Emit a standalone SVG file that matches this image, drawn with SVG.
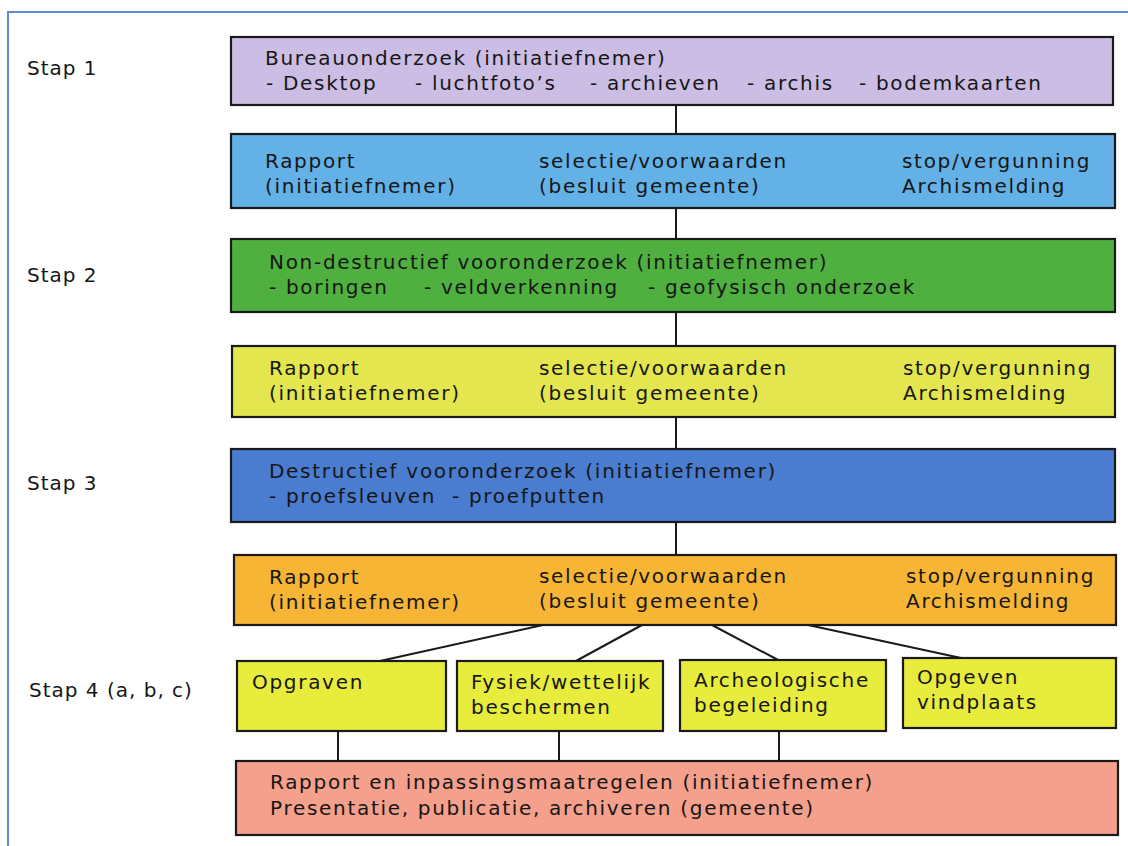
<svg xmlns="http://www.w3.org/2000/svg" width="1128" height="846" viewBox="0 0 1128 846">
<style>
.box{stroke:#1a1a1a;stroke-width:2.2}
.t{font-family:"DejaVu Sans","Open Sans",sans-serif;font-size:20px;letter-spacing:1.7px;fill:#161616}
.l{letter-spacing:1px}
.c{stroke:#1a1a1a;stroke-width:2;fill:none}
</style>
<rect width="1128" height="846" fill="#ffffff"/>
<path d="M8,846 V12 H1128" fill="none" stroke="#5f8bd4" stroke-width="2"/>
<g id="labels">
<text class="t l" x="27" y="75">Stap 1</text>
<text class="t l" x="27" y="282">Stap 2</text>
<text class="t l" x="27" y="490">Stap 3</text>
<text class="t l" x="29" y="697">Stap 4 (a, b, c)</text>
</g>
<g id="connectors">
<line class="c" x1="676" y1="105" x2="676" y2="134"/>
<line class="c" x1="676" y1="208" x2="676" y2="239"/>
<line class="c" x1="676" y1="312" x2="676" y2="346"/>
<line class="c" x1="676" y1="417" x2="676" y2="449"/>
<line class="c" x1="676" y1="522" x2="676" y2="555"/>
<line class="c" x1="543" y1="625" x2="380" y2="661"/>
<line class="c" x1="642" y1="625" x2="576" y2="661"/>
<line class="c" x1="712" y1="625" x2="780" y2="661"/>
<line class="c" x1="808" y1="625" x2="975" y2="661"/>
<line class="c" x1="338" y1="731" x2="338" y2="761"/>
<line class="c" x1="559" y1="731" x2="559" y2="761"/>
<line class="c" x1="779" y1="731" x2="779" y2="761"/>
</g>
<g id="n1">
<rect class="box" x="231" y="37" width="882" height="68" fill="#cbbde3"/>
<text class="t"><tspan x="265" y="65">Bureauonderzoek (initiatiefnemer)</tspan><tspan x="266" y="90">- Desktop</tspan><tspan x="415" y="90">- luchtfoto’s</tspan><tspan x="590" y="90">- archieven</tspan><tspan x="747" y="90">- archis</tspan><tspan x="859" y="90">- bodemkaarten</tspan></text>
</g>
<g id="n2">
<rect class="box" x="231" y="134" width="884" height="74" fill="#63b1e6"/>
<text class="t"><tspan x="265" y="168">Rapport</tspan><tspan x="265" y="193">(initiatiefnemer)</tspan></text>
<text class="t"><tspan x="539" y="168">selectie/voorwaarden</tspan><tspan x="539" y="193">(besluit gemeente)</tspan></text>
<text class="t"><tspan x="902" y="168">stop/vergunning</tspan><tspan x="902" y="193">Archismelding</tspan></text>
</g>
<g id="n3">
<rect class="box" x="231" y="239" width="884" height="73" fill="#4fb040"/>
<text class="t"><tspan x="269" y="269">Non-destructief vooronderzoek (initiatiefnemer)</tspan><tspan x="269" y="294">- boringen</tspan><tspan x="424" y="294">- veldverkenning</tspan><tspan x="648" y="294">- geofysisch onderzoek</tspan></text>
</g>
<g id="n4">
<rect class="box" x="232" y="346" width="883" height="71" fill="#e3e64e"/>
<text class="t"><tspan x="269" y="375">Rapport</tspan><tspan x="269" y="400">(initiatiefnemer)</tspan></text>
<text class="t"><tspan x="539" y="375">selectie/voorwaarden</tspan><tspan x="539" y="400">(besluit gemeente)</tspan></text>
<text class="t"><tspan x="903" y="375">stop/vergunning</tspan><tspan x="903" y="400">Archismelding</tspan></text>
</g>
<g id="n5">
<rect class="box" x="231" y="449" width="884" height="73" fill="#4a7cd0"/>
<text class="t"><tspan x="269" y="478">Destructief vooronderzoek (initiatiefnemer)</tspan><tspan x="269" y="503">- proefsleuven</tspan><tspan x="452" y="503">- proefputten</tspan></text>
</g>
<g id="n6">
<rect class="box" x="234" y="555" width="882" height="70" fill="#f6b534"/>
<text class="t"><tspan x="269" y="584">Rapport</tspan><tspan x="269" y="609">(initiatiefnemer)</tspan></text>
<text class="t"><tspan x="539" y="583">selectie/voorwaarden</tspan><tspan x="539" y="608">(besluit gemeente)</tspan></text>
<text class="t"><tspan x="906" y="583">stop/vergunning</tspan><tspan x="906" y="608">Archismelding</tspan></text>
</g>
<g id="n7">
<rect class="box" x="237" y="661" width="209" height="70" fill="#e8ec3c"/>
<text class="t" x="252" y="689">Opgraven</text>
</g>
<g id="n8">
<rect class="box" x="457" y="661" width="206" height="70" fill="#e8ec3c"/>
<text class="t"><tspan x="471" y="689">Fysiek/wettelijk</tspan><tspan x="471" y="714">beschermen</tspan></text>
</g>
<g id="n9">
<rect class="box" x="680" y="660" width="206" height="71" fill="#e8ec3c"/>
<text class="t"><tspan x="694" y="687">Archeologische</tspan><tspan x="694" y="712">begeleiding</tspan></text>
</g>
<g id="n10">
<rect class="box" x="903" y="658" width="213" height="70" fill="#e8ec3c"/>
<text class="t"><tspan x="917" y="684">Opgeven</tspan><tspan x="917" y="709">vindplaats</tspan></text>
</g>
<g id="n11">
<rect class="box" x="236" y="761" width="882" height="74" fill="#f4a08c"/>
<text class="t"><tspan x="270" y="789">Rapport en inpassingsmaatregelen (initiatiefnemer)</tspan><tspan x="270" y="815">Presentatie, publicatie, archiveren (gemeente)</tspan></text>
</g>
</svg>
